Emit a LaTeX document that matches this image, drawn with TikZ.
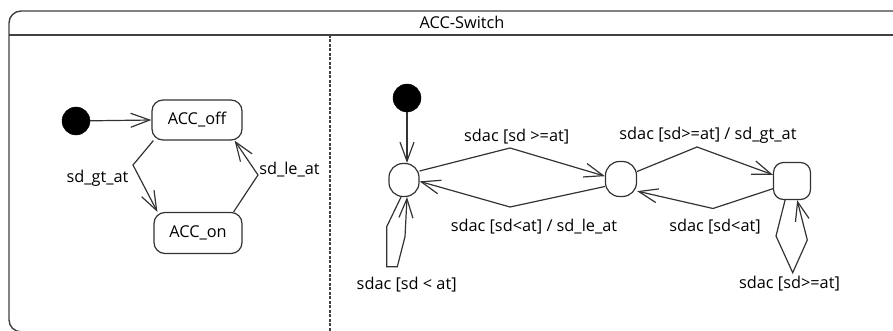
\documentclass[tikz,border=0pt]{standalone}
\usepackage{fontspec}
\setmainfont{Open Sans}
\usetikzlibrary{arrows.meta}
\tikzset{
  ln/.style={draw=black!80, line width=1.2pt},
  tr/.style={ln, -{Straight Barb[length=19pt,width=14pt,line width=1.2pt]}},
  initst/.style={circle, fill=black, draw=black, minimum size=28pt, inner sep=0pt},
  statebox/.style={ln, rounded corners=11pt, inner sep=0pt, font=\fontsize{16.3}{19}\selectfont},
  lbl/.style={inner sep=0pt, font=\fontsize{16.3}{19}\selectfont, text=black},
}
\begin{document}
\begin{tikzpicture}[x=1pt, y=-1pt]
\useasboundingbox (0,0) rectangle (893,331);
% frame
\draw[draw=black!75, line width=1.4pt, rounded corners=12pt] (9,11) rectangle (940,331.8);
\draw[draw=black!75, line width=1.3pt] (9,35) -- (940,35);
\draw[draw=black!75, line width=1.2pt, dash pattern=on 3pt off 1.5pt] (330,35) -- (330,331);
\node[lbl] (title) at (462,22) {ACC-Switch};

% left region
\node[initst] (i1) at (76,121) {};
\node[statebox, minimum width=90pt, minimum height=40pt] (off) at (197,120) {ACC\_off};
\node[statebox, minimum width=88pt, minimum height=41pt] (on) at (198,233) {ACC\_on};
\coordinate (g1) at (133,165);
\coordinate (l1) at (258,175);
\draw[tr] (i1) -- (off.west);
\draw[tr] ([xshift=2pt]off.south west) -- (g1) -- ([xshift=4pt]on.north west);
\draw[tr] ([xshift=-9pt]on.north east) -- (l1) -- ([xshift=-8pt]off.south east);
\node[lbl] (lg) at (97.5,178) {sd\_gt\_at};
\node[lbl] (ll) at (289.5,170) {sd\_le\_at};

% right region
\node[initst] (i2) at (407,98) {};
\node[statebox, rounded corners=14pt, minimum width=30pt, minimum height=33pt] (s1) at (404,180) {};
\node[statebox, rounded corners=14pt, minimum width=31pt, minimum height=35pt] (s2) at (621,179) {};
\node[statebox, rounded corners=10pt, minimum width=37pt, minimum height=37pt] (s3) at (792,181) {};

\coordinate (b12) at (510,148);
\coordinate (b21) at (510,207);
\coordinate (b23) at (697,147);
\coordinate (b32) at (713,208.5);
\coordinate (p1) at (386.7,226.7);
\coordinate (p2) at (386.7,266.7);
\coordinate (p3) at (397.3,266.7);
\coordinate (p4) at (405,236.7);
\coordinate (q1) at (776,236);
\coordinate (q2) at (792.7,272.7);
\coordinate (q3) at (807.3,240);

\draw[tr] (i2.south) -- (i2.south |- s1.north);
\draw[tr] (s1.30) -- (b12) -- (s2.170);
\draw[tr] (s2.-155) -- (b21) -- (s1.-5);
\draw[tr] (s2.25) -- (b23) -- (s3.162);
\draw[tr] (s3.-158) -- (b32) -- (s2.-37);
\draw[tr] (s1.-100) -- (p1) -- (p2) -- (p3) -- (p4) -- (s1.-80);
\draw[tr] (s3.-110) -- (q1) -- (q2) -- (q3) -- (s3.-75);

\node[lbl] (t12) at (516.7,136.7) {sdac [sd >=at]};
\node[lbl] (t21) at (534,226.7) {sdac [sd<at] / sd\_le\_at};
\node[lbl] (t23) at (708,135) {sdac [sd>=at] / sd\_gt\_at};
\node[lbl] (t32) at (715,227) {sdac [sd<at]};
\node[lbl] (t33) at (789.5,284) {sdac [sd>=at]};
\node[lbl] (t11) at (406.7,285) {sdac [sd < at]};
\end{tikzpicture}
\end{document}
